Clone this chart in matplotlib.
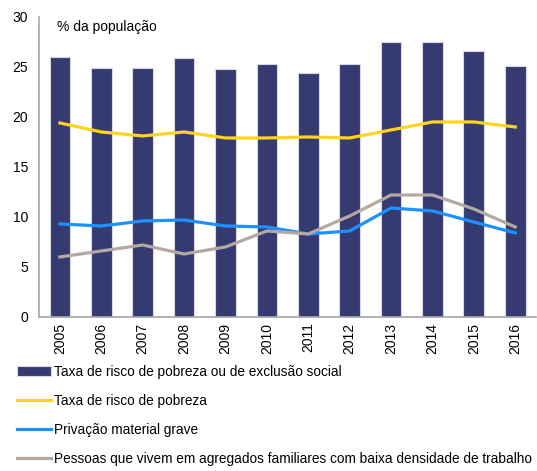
import matplotlib.pyplot as plt
import numpy as np

plt.rcParams['font.family'] = ['Liberation Sans', 'DejaVu Sans']

# Data
anos = ['2005', '2006', '2007', '2008', '2009', '2010',
        '2011', '2012', '2013', '2014', '2015', '2016']
risco_exclusao = [26.0, 24.9, 24.9, 25.9, 24.8, 25.3, 24.4, 25.3, 27.5, 27.5, 26.6, 25.1]
risco_pobreza = [19.4, 18.5, 18.1, 18.5, 17.9, 17.9, 18.0, 17.9, 18.7, 19.5, 19.5, 19.0]
privacao = [9.3, 9.1, 9.6, 9.7, 9.1, 9.0, 8.3, 8.6, 10.9, 10.6, 9.5, 8.4]
baixa_densidade = [6.0, 6.6, 7.2, 6.3, 7.0, 8.6, 8.3, 10.1, 12.2, 12.2, 10.8, 9.0]

fig = plt.figure(figsize=(5.37, 4.71), dpi=100)
ax = fig.add_axes([0.073, 0.327, 0.925, 0.637])

x = np.arange(len(anos))
ax.bar(x, risco_exclusao, width=0.5, color='#353B71', edgecolor='#D8D8E4', linewidth=0.8,
       label='Taxa de risco de pobreza ou de exclusão social', zorder=2)
ax.plot(x, risco_pobreza, color='#FFD320', lw=2.3, label='Taxa de risco de pobreza', zorder=3)
ax.plot(x, privacao, color='#1E90FF', lw=2.3, label='Privação material grave', zorder=3)
ax.plot(x, baixa_densidade, color='#B4A8A2', lw=2.3,
        label='Pessoas que vivem em agregados familiares com baixa densidade de trabalho', zorder=3)

ax.set_xlim(-0.5, len(anos) - 0.5)
ax.set_ylim(0, 30)
ax.set_yticks([0, 5, 10, 15, 20, 25, 30])
ax.set_xticks(x)
ax.set_xticklabels(anos, rotation=90)
ax.tick_params(axis='both', length=0, labelsize=10, colors='black')
ax.tick_params(axis='y', pad=8)
ax.tick_params(axis='x', pad=4)
for s in ['top', 'right']:
    ax.spines[s].set_visible(False)
for s in ['left', 'bottom']:
    ax.spines[s].set_color('#A6A6A6')
    ax.spines[s].set_linewidth(1.2)

ax.text(0.035, 0.965, '% da população', transform=ax.transAxes, fontsize=10, va='center', ha='left')

handles, labels = ax.get_legend_handles_labels()
order = [3, 0, 1, 2]
fig.legend([handles[i] for i in order], [labels[i] for i in order],
           loc='upper left', bbox_to_anchor=(0.022, 0.237), frameon=False, fontsize=9.85,
           handlelength=2.5, handletextpad=0.2, labelspacing=1.1, borderaxespad=0)

fig.savefig('out.png', dpi=100)
